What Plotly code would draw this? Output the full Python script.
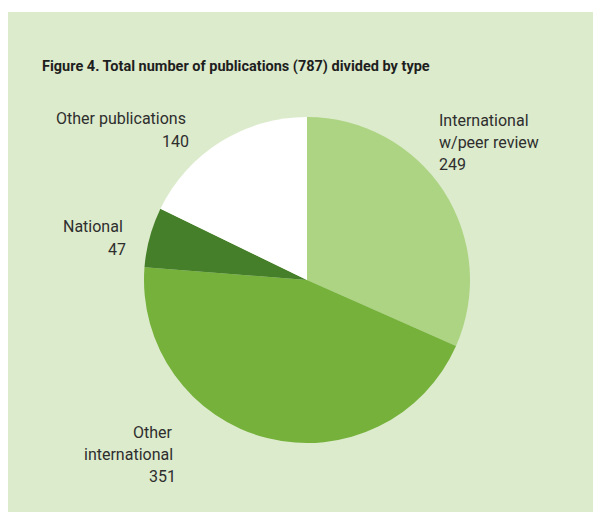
import plotly.graph_objects as go

categories = ["International w/peer review", "Other international", "National", "Other publications"]
values = [249, 351, 47, 140]
label_lines = [["International", "w/peer review"], ["Other", "international"], ["National"], ["Other publications"]]
colors = ["#acd483", "#75b13b", "#467f2a", "#ffffff"]
title_text = "Figure 4. Total number of publications (787) divided by type"

W, H = 593, 513
BG = "#dcebcc"
TXT = "#2e2e2e"
FONT = "Roboto"

fig = go.Figure()
fig.add_trace(go.Pie(
    labels=categories, values=values, sort=False, direction="clockwise", rotation=0,
    marker=dict(colors=colors, line=dict(width=0)),
    textinfo="none", hoverinfo="label+value", showlegend=False,
    domain=dict(x=[144 / W, 470 / W], y=[1 - 443 / H, 1 - 117 / H]),
))

def px(x):
    return x / W

def py(y):
    return 1 - y / H

annos = []
# label layout: (x, anchor, first line y)
layout_info = [
    (437, "left", 120),
    (175, "right", 432),
    (125, "right", 226),
    (188, "right", 118),
]
for lines, val, (x, anch, y0) in zip(label_lines, values, layout_info):
    step = 22 if len(lines) > 1 or anch == "left" else 23
    for i, ln in enumerate(lines + [str(val)]):
        xx = x
        if ln == str(val) and anch == "right":
            xx = x + 3
        annos.append(dict(x=px(xx), y=py(y0 + i * step), xref="paper", yref="paper",
                          text=ln, showarrow=False, xanchor=anch, yanchor="middle",
                          font=dict(family=FONT, size=16, color=TXT)))

annos.append(dict(x=px(40), y=py(67), xref="paper", yref="paper", text="<b>" + title_text + "</b>",
                  showarrow=False, xanchor="left", yanchor="middle",
                  font=dict(family="Roboto", size=14.5, color="#1e1e1e")))

fig.update_layout(
    width=W, height=H, margin=dict(l=0, r=0, t=0, b=0),
    paper_bgcolor="white", plot_bgcolor="white",
    shapes=[dict(type="rect", xref="paper", yref="paper", x0=px(8), x1=1, y0=py(512), y1=py(12),
                 fillcolor=BG, line=dict(width=0), layer="below")],
    annotations=annos,
)
fig.write_html("out.html")
